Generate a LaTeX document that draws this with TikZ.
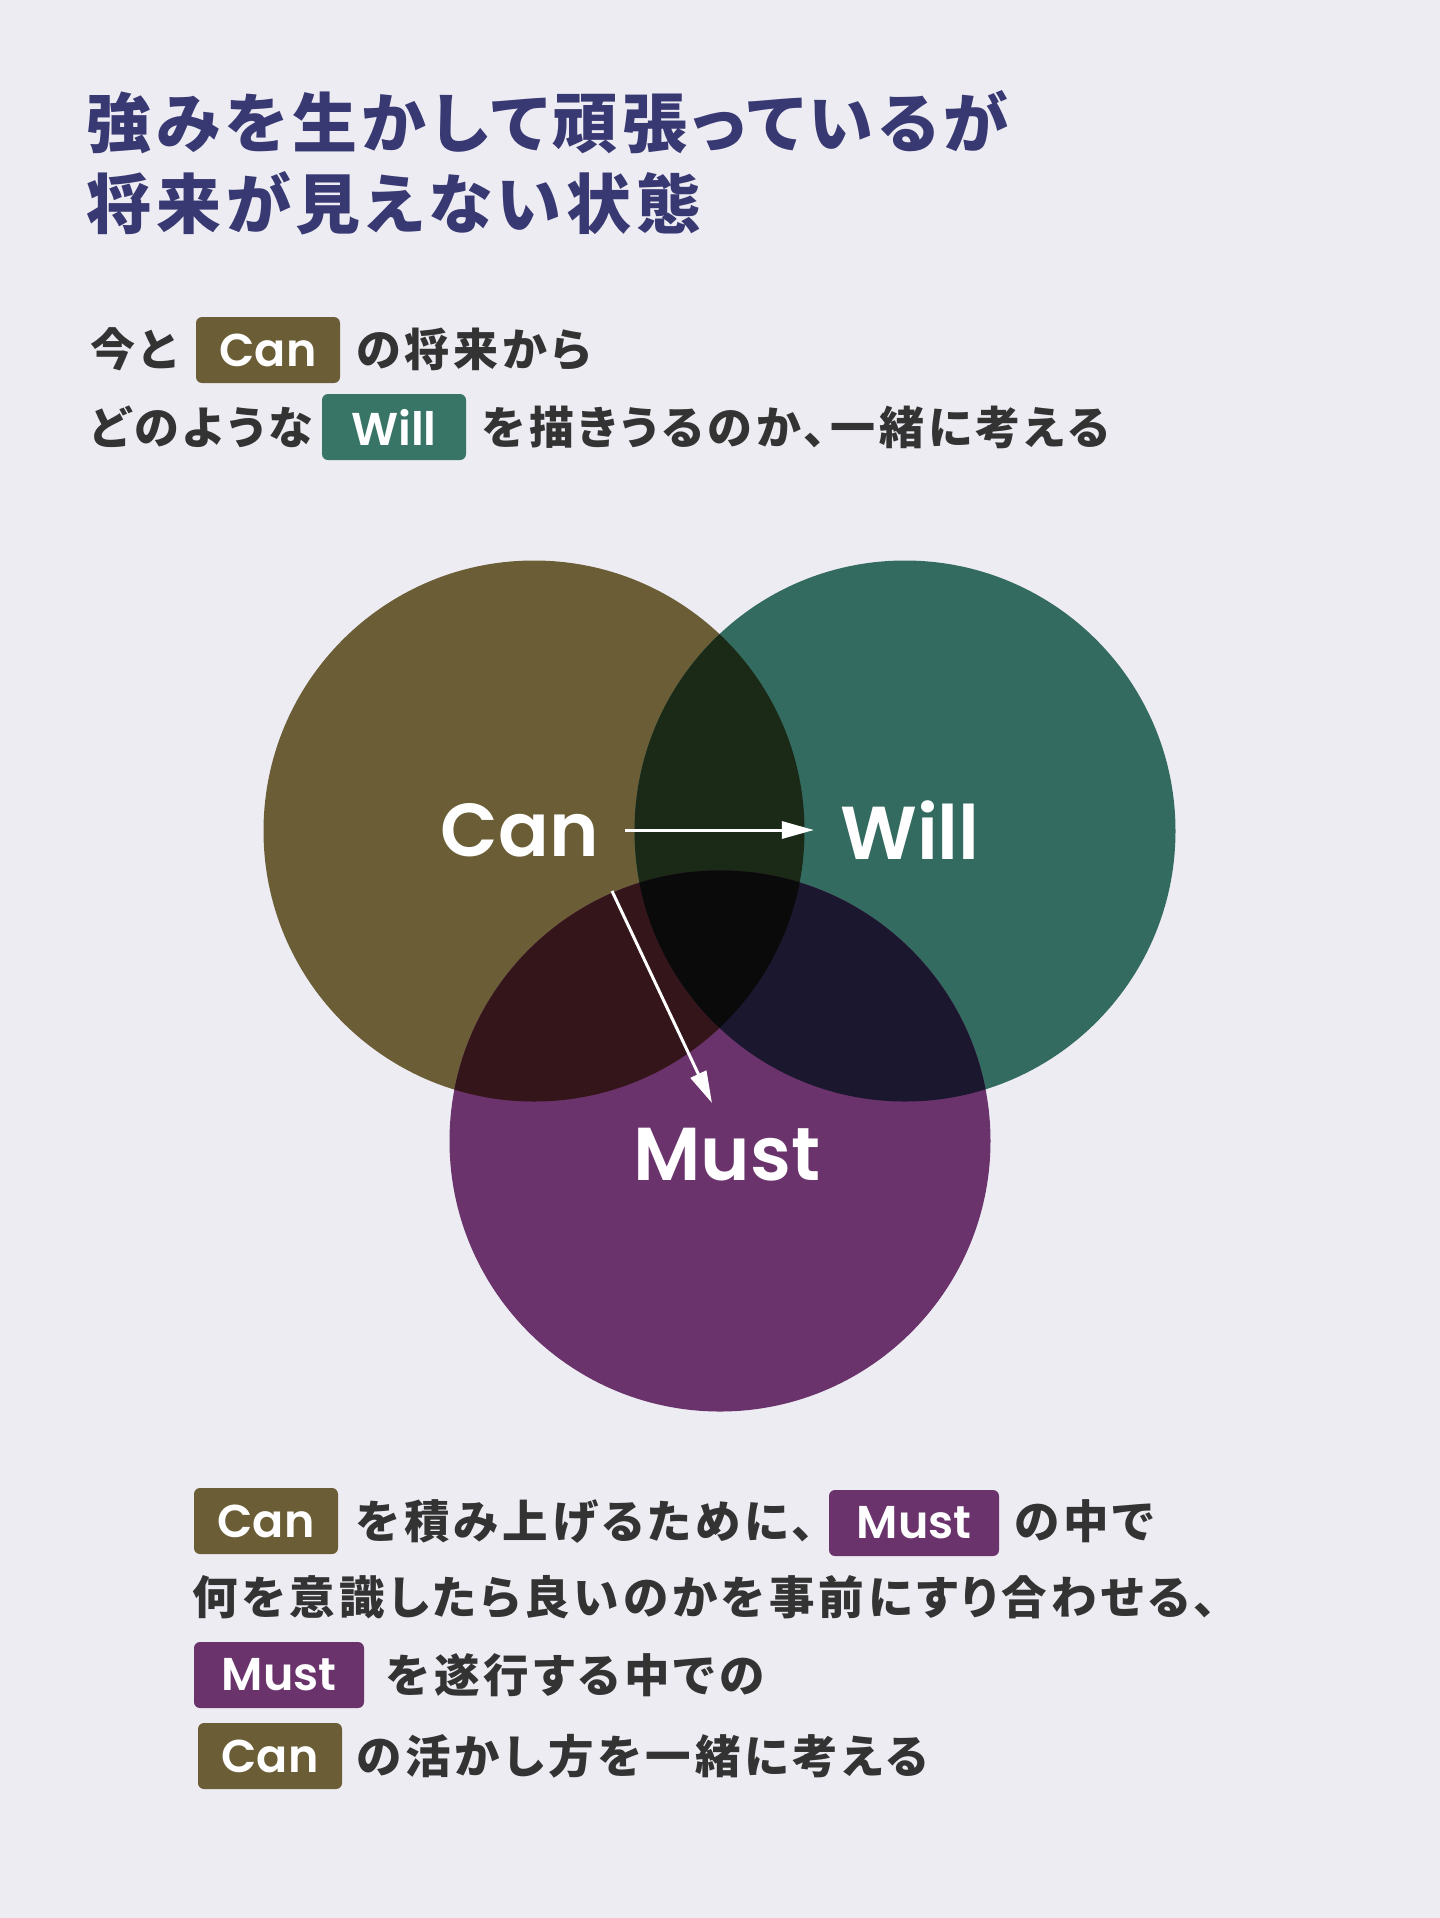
\documentclass[tikz,border=0pt]{standalone}
\usepackage{fontspec}
\usepackage{tikz}
\usetikzlibrary{arrows.meta, positioning}
\newfontfamily\jpfont{Noto Sans CJK JP}[RawFeature=+palt, LetterSpace=9]
\newfontfamily\jptitlefont{Noto Sans CJK JP}[RawFeature=+palt, LetterSpace=7.5]
\newfontfamily\vennfont{Poppins SemiBold}
\definecolor{bgcol}{HTML}{EDECF3}
\definecolor{titlecol}{HTML}{383872}
\definecolor{textcol}{HTML}{333333}
\definecolor{cancol}{HTML}{6B5E37}
\definecolor{willcol}{HTML}{346B60}
\definecolor{mustcol}{HTML}{6A336C}
\definecolor{willbadge}{HTML}{387566}
\definecolor{canwill}{HTML}{1A2A16}
\definecolor{canmust}{HTML}{33151A}
\definecolor{willmust}{HTML}{1A172E}
\definecolor{allthree}{HTML}{0B0A0B}

\begin{document}
\begin{tikzpicture}[
			x=0.5pt, y=-0.5pt,
			title/.style={anchor=west, inner sep=0, text=titlecol, font=\jptitlefont\bfseries\fontsize{32.5pt}{40pt}\selectfont},
			jptext/.style={anchor=west, inner sep=0, text=textcol, font=\jpfont\bfseries\fontsize{22.5pt}{28pt}\selectfont},
			jpbottom/.style={jptext, font=\jpfont\bfseries\fontsize{22.75pt}{28pt}\selectfont},
			badge/.style={rounded corners=3pt, inner xsep=0, minimum width=72pt, minimum height=33pt, text=white, font=\vennfont\fontsize{23pt}{28pt}\selectfont},
			vennlabel/.style={inner xsep=13pt, inner ysep=0, text=white, font=\vennfont\fontsize{37.5pt}{44pt}\selectfont},
			arrow/.style={-{Triangle[length=16pt, width=8.5pt]}, white, line width=1.5pt},
			]
			
			\useasboundingbox (0,0) rectangle (1440,1918);
			\fill[bgcol] (0,0) rectangle (1440,1918);
			
			\node[title] (title1) at (86,122) {強みを生かして頑張っているが};
			\node[title] (title2) at (86,203) {将来が見えない状態};
			
			\node[jptext] (sub1a) at (90,349) {今と};
			\node[badge, fill=cancol] (subcan) at (268,350) {Can};
			\node[jptext] (sub1b) at (356,349) {の将来から};
			\node[jptext] (sub2a) at (90,427) {どのような};
			\node[badge, fill=willbadge] (subwill) at (394,427) {Will};
			\node[jptext] (sub2b) at (482,427) {を描きうるのか、一緒に考える};
			
			\coordinate (cancenter) at (534,831);
			\coordinate (willcenter) at (905,831);
			\coordinate (mustcenter) at (720,1141);
			
			\fill[cancol] (cancenter) circle (270.5);
			\fill[willcol] (willcenter) circle (270.5);
			\fill[mustcol] (mustcenter) circle (270.5);
			\begin{scope}
				\clip (cancenter) circle (270.5);
				\fill[canwill] (willcenter) circle (270.5);
				\fill[canmust] (mustcenter) circle (270.5);
			\end{scope}
			\begin{scope}
				\clip (willcenter) circle (270.5);
				\fill[willmust] (mustcenter) circle (270.5);
			\end{scope}
			\begin{scope}
				\clip (cancenter) circle (270.5);
				\clip (willcenter) circle (270.5);
				\fill[allthree] (mustcenter) circle (270.5);
			\end{scope}
			
			\node[vennlabel] (canlbl) at (520,830) {Can};
			\node[vennlabel] (willlbl) at (910,830) {Will};
			\node[vennlabel] (mustlbl) at (727,1155) {Must};
			
			\coordinate (canexit) at (612,891);
			\coordinate (mustentry) at (712,1103);
			
			\draw[arrow] (canlbl.east) -- (canlbl.east -| willlbl.west);
			\draw[arrow] (canexit) -- (mustentry);
			
			\node[badge, fill=cancol] (botcan1) at (266,1521) {Can};
			\node[jpbottom] (bot1a) at (356,1521) {を積み上げるために、};
			\node[badge, fill=mustcol, minimum width=85pt] (botmust1) at (914,1523) {Must};
			\node[jpbottom] (bot1b) at (1014,1521) {の中で};
			\node[jpbottom] (bot2) at (192,1597) {何を意識したら良いのかを事前にすり合わせる、};
			\node[badge, fill=mustcol, minimum width=85pt] (botmust2) at (279,1675) {Must};
			\node[jpbottom] (bot3) at (386,1675) {を遂行する中での};
			\node[badge, fill=cancol] (botcan2) at (270,1756) {Can};
			\node[jpbottom] (bot4) at (356,1756) {の活かし方を一緒に考える};
			
		\end{tikzpicture}
\end{document}
